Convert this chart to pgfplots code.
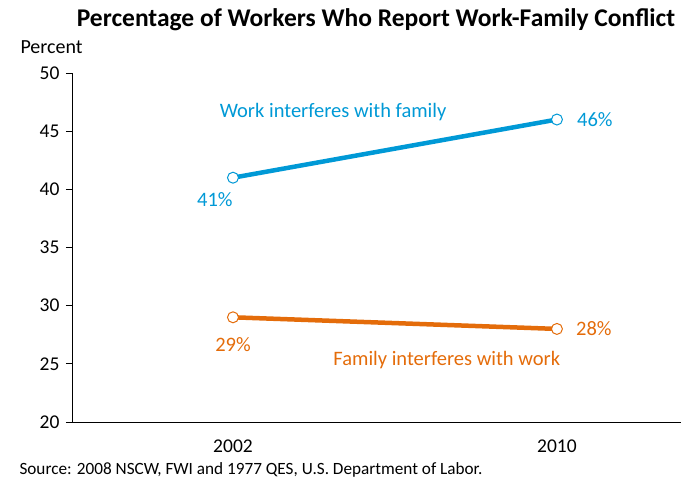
\documentclass[border=0pt]{standalone}
\usepackage{pgfplots}
\pgfplotsset{compat=1.18}
\usepackage{fontspec}
\setmainfont{Carlito}
\definecolor{cblue}{RGB}{0,153,214}
\definecolor{corange}{RGB}{228,108,10}
\begin{document}
\begin{tikzpicture}[x=1pt,y=1pt]
\useasboundingbox (0,0) rectangle (681,485);
\begin{axis}[
  at={(72pt,63pt)}, anchor=south west,
  scale only axis, width=609pt, height=349pt,
  xmin=-0.497, xmax=1.383, ymin=20, ymax=50,
  axis lines=left, axis line style={-, black, line width=0.8pt},
  xtick={0,1}, xticklabels={2002,2010}, x tick style={draw=none},
  ytick={20,25,...,50}, y tick style={black, line width=0.8pt},
  tick align=outside, major tick length=6pt,
  /pgf/number format/assume math mode=true,
  ticklabel style={font=\fontsize{19.5}{23}\selectfont},
  yticklabel style={xshift=-3pt},
  xticklabel style={yshift=-8pt},
  clip=false,
]
\addplot[cblue, line width=4.5pt, mark=*, mark size=5.5pt,
  mark options={fill=white, draw=cblue, line width=1pt}]
  coordinates {(0,41) (1,46)};
\addplot[corange, line width=4.5pt, mark=*, mark size=5.5pt,
  mark options={fill=white, draw=corange, line width=1pt}]
  coordinates {(0,29) (1,28)};
\node[cblue, font=\fontsize{20.5}{24}\selectfont] at (axis cs:0.309,46.65) {Work interferes with family};
\node[corange, font=\fontsize{20.5}{24}\selectfont] at (axis cs:0.66,25.33) {Family interferes with work};
\node[cblue, font=\fontsize{20.5}{24}\selectfont] at (axis cs:-0.056,39.08) {41\%};
\node[cblue, font=\fontsize{20.5}{24}\selectfont] at (axis cs:1.117,45.96) {46\%};
\node[corange, font=\fontsize{20.5}{24}\selectfont] at (axis cs:0,26.62) {29\%};
\node[corange, font=\fontsize{20.5}{24}\selectfont] at (axis cs:1.114,28.0) {28\%};
\end{axis}
\node[font=\fontsize{25.5}{30}\selectfont\bfseries] at (376,465) {Percentage of Workers Who Report Work-Family Conflict};
\node[font=\fontsize{20}{24}\selectfont, anchor=west] at (17,438) {Percent};
\node[font=\fontsize{17.2}{20}\selectfont, anchor=west] at (16,15) {Source: 2008 NSCW, FWI and 1977 QES, U.S. Department of Labor.};
\end{tikzpicture}
\end{document}
